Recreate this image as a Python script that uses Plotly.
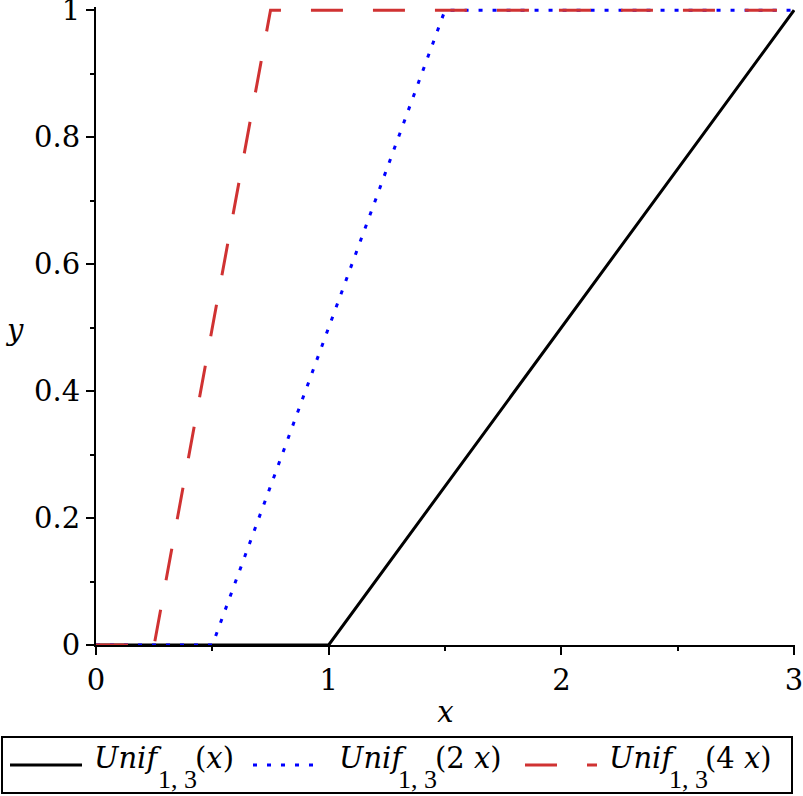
import plotly.graph_objects as go

# ---- data (breakpoints) ----
x_unif_x = [0, 1, 3]
y_unif_x = [0, 0, 1]
x_unif_2x = [0, 0.5, 1.5, 3]
y_unif_2x = [0, 0, 1, 1]
x_unif_4x = [0, 0.25, 0.75, 3]
y_unif_4x = [0, 0, 1, 1]
name_main = ["<i>Unif</i>", "<i>Unif</i>", "<i>Unif</i>"]
name_sub = ["1, 3", "1, 3", "1, 3"]
name_arg = ["(<i>x</i>)", "(2 <i>x</i>)", "(4 <i>x</i>)"]
x_ticks = [0, 1, 2, 3]
y_ticks = [0, 0.2, 0.4, 0.6, 0.8, 1]

# ---- styling ----
W, H = 803, 796
ML, MR, MT, MB = 96, 8, 7, 151
FONT = "DejaVu Serif"
FONT_SUB = "Liberation Serif"
FS = 29
FS_SUB = 26
colors = ["#000000", "#0000ff", "#d03232"]
dashes = ["solid", "4px,10px", "32px,30px"]
LW = 3

PW = W - ML - MR
PH = H - MT - MB


def px_x(p):
    return (p - ML) / PW


def px_y(p):
    return (H - MB - p) / PH


fig = go.Figure()
for xs, ys, c, d, n in zip(
    [x_unif_x, x_unif_2x, x_unif_4x],
    [y_unif_x, y_unif_2x, y_unif_4x],
    colors, dashes, name_arg,
):
    fig.add_trace(go.Scatter(x=xs, y=ys, mode="lines", name="Unif" + n,
                             line=dict(color=c, width=LW, dash=d),
                             showlegend=False))

axis_common = dict(
    showline=True, linecolor="black", linewidth=2,
    ticks="outside", ticklen=8, tickwidth=2, tickcolor="black",
    showgrid=False, zeroline=False, mirror=False,
    automargin=False,
    ticklabeloverflow="allow",
    tickfont=dict(family=FONT, size=FS, color="black"),
)
fig.update_xaxes(range=[0, 3.004], tickvals=x_ticks, **axis_common,
                 minor=dict(ticks="outside", ticklen=4, tickwidth=2,
                            tickcolor="black", dtick=0.5, showgrid=False),
                 title=dict(text="<i>x</i>", font=dict(family=FONT, size=FS, color="black"),
                            standoff=6))
fig.update_yaxes(range=[0, 1.005], tickvals=y_ticks, **axis_common,
                 minor=dict(ticks="outside", ticklen=4, tickwidth=2,
                            tickcolor="black", dtick=0.1, showgrid=False))

# y label (horizontal)
fig.add_annotation(text="<i>y</i>", xref="paper", yref="paper",
                   x=px_x(14), y=px_y(330), xanchor="center", yanchor="middle",
                   showarrow=False, font=dict(family=FONT, size=FS, color="black"))

# ---- legend box (drawn manually to match the long samples) ----
fig.add_shape(type="rect", xref="paper", yref="paper",
              x0=px_x(2), x1=px_x(792), y0=px_y(793), y1=px_y(737),
              line=dict(color="black", width=2), fillcolor="white", layer="above")
sample_x = [(10, 82), (253, 316), (525, 597)]
text_x = [(93, 157, 194), (338, 397, 434), (608, 668, 704)]
LEG_Y = 765
MAIN_Y = 758
SUB_Y = 779
for (a, b), (t0, t1, t2), c, d, m, s, g in zip(sample_x, text_x, colors, dashes,
                                               name_main, name_sub, name_arg):
    fig.add_shape(type="line", xref="paper", yref="paper",
                  x0=px_x(a), x1=px_x(b), y0=px_y(LEG_Y), y1=px_y(LEG_Y),
                  line=dict(color=c, width=LW, dash=d), layer="above")
    for txt, tx, ty, fs, fam in [(m, t0, MAIN_Y, FS, FONT), (s, t1, SUB_Y, FS_SUB, FONT_SUB),
                                 (g, t2, MAIN_Y, FS, FONT)]:
        fig.add_annotation(text=txt, xref="paper", yref="paper",
                           x=px_x(tx), y=px_y(ty), xanchor="left", yanchor="middle",
                           showarrow=False, borderpad=0,
                           font=dict(family=fam, size=fs, color="black"))

fig.update_layout(
    width=W, height=H,
    margin=dict(l=ML, r=MR, t=MT, b=MB, pad=0, autoexpand=False),
    plot_bgcolor="white", paper_bgcolor="white",
    font=dict(family=FONT, size=FS, color="black"),
    showlegend=False,
)

fig.write_html("out.html")
